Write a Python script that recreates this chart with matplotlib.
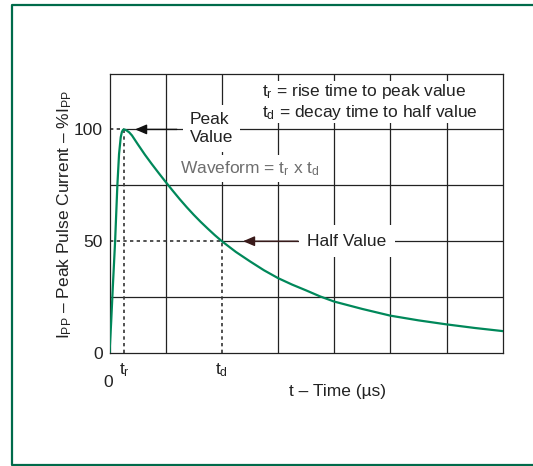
import numpy as np
import matplotlib
matplotlib.use("Agg")
import matplotlib.pyplot as plt
from matplotlib.lines import Line2D

plt.rcParams["font.family"] = ["Liberation Sans", "DejaVu Sans"]
plt.rcParams["mathtext.fontset"] = "custom"
plt.rcParams["mathtext.rm"] = "Liberation Sans"
plt.rcParams["mathtext.it"] = "Liberation Sans"

# pulse waveform (time in grid units, current in % of peak)
time_us = [0, 0.03, 0.06, 0.1, 0.14, 0.17, 0.2, 0.22, 0.24, 0.26, 0.3, 0.35, 0.4,
           0.5, 0.63, 0.75, 0.875, 1.0, 1.125, 1.25, 1.375, 1.5, 1.625, 1.75,
           1.875, 2.0, 2.25, 2.5, 2.75, 3.0, 3.25, 3.5, 3.75, 4.0, 4.5, 5.0,
           5.5, 6.0, 6.5, 7.0]
current_pct = [0, 14, 30, 50, 75, 89, 96.5, 98.8, 99.8, 100, 99.6, 98.7, 97.3,
               93.5, 88.7, 84.6, 80.5, 76.5, 72.6, 68.8, 65.2, 61.8, 58.6, 55.6,
               52.7, 50, 45.2, 41, 37, 33.5, 30.6, 28, 25.3, 23, 19.7, 16.7,
               14.6, 12.8, 11.2, 9.8]

t_rise = 0.26
t_decay = 2.0
x_grid = [1, 2, 3, 4, 5, 6]
y_grid = [25, 50, 75, 100]
y_ticks = [0, 50, 100]

green = "#00885a"
ink = "#222222"
fs = 12.5

fig = plt.figure(figsize=(5.33, 4.66), dpi=100)
ax = fig.add_axes([109.5 / 533, 1 - 353 / 466, 393.2 / 533, 279.5 / 466])
ax.set_xlim(0, 7)
ax.set_ylim(0, 125)

# grid, with the gaps where the dotted guides take over
for x in x_grid:
    lo = 50 / 125 if x == t_decay else 0
    ax.axvline(x, ymin=lo, color=ink, lw=0.9, zorder=1)
for y in y_grid:
    if y == 50:
        start = t_decay / 7
    elif y == 100:
        start = t_rise / 7
    else:
        start = 0
    ax.axhline(y, xmin=start, color=ink, lw=0.9, zorder=1)

# dotted guides to peak and half value
dots = dict(color="#333333", lw=1.2, ls=(0, (2, 2)), zorder=2)
ax.plot([0, t_rise], [100, 100], **dots)
ax.plot([t_rise, t_rise], [0, 100], **dots)
ax.plot([0, t_decay], [50, 50], **dots)
ax.plot([t_decay, t_decay], [0, 50], **dots)

ax.plot(time_us, current_pct, color=green, lw=1.6, zorder=4, solid_joinstyle="round")

for s in ax.spines.values():
    s.set_color(ink)
    s.set_linewidth(0.9)

ax.set_yticks(y_ticks)
ax.set_yticklabels([str(v) for v in y_ticks])
ax.set_xticks([t_rise, t_decay])
ax.set_xticklabels([r"t$_\mathrm{r}$", r"t$_\mathrm{d}$"])
ax.tick_params(axis="y", length=0, pad=5, labelsize=fs, labelcolor=ink)
ax.tick_params(axis="x", length=0, pad=6, labelsize=fs, labelcolor=ink)
ax.text(-0.03, -13.4, "0", ha="center", va="center", fontsize=fs, color=ink, clip_on=False)

ax.text(0.581, -0.1395, "t – Time (µs)", transform=ax.transAxes,
        ha="center", va="center", fontsize=fs, color=ink)
fig.text(65 / 533, 1 - 215 / 466,
         r"I$_\mathrm{PP}$ – Peak Pulse Current – %I$_\mathrm{PP}$",
         rotation=90, ha="center", va="center", fontsize=fs, color=ink)

white = dict(facecolor="white", edgecolor="none", pad=3)

# key in the upper right
ax.text(2.715, 112.3,
        "t$_\\mathrm{r}$ = rise time to peak value\nt$_\\mathrm{d}$ = decay time to half value",
        ha="left", va="center", fontsize=fs, color=ink, linespacing=1.12,
        bbox=dict(facecolor="white", edgecolor="none", pad=1), zorder=5)

# peak annotation
ax.text(1.43, 100.4, "Peak\nValue", ha="left", va="center", fontsize=fs,
        color=ink, linespacing=1.25, bbox=dict(facecolor="white", edgecolor="none", pad=5),
        zorder=5)
ax.annotate("", xy=(0.455, 100), xytext=(1.2, 100),
            arrowprops=dict(arrowstyle="-|>,head_length=0.7,head_width=0.3",
                            color="#111111", lw=1.0, shrinkA=0, shrinkB=0), zorder=6)

ax.text(1.255, 82.3, r"Waveform = t$_\mathrm{r}$ x t$_\mathrm{d}$", ha="left", va="center",
        fontsize=fs, color="#6e6e6e", bbox=white, zorder=5)

# half value annotation
ax.text(3.515, 50, "Half Value", ha="left", va="center", fontsize=fs, color=ink,
        bbox=dict(facecolor="white", edgecolor="none", pad=6), zorder=5)
ax.annotate("", xy=(2.377, 50), xytext=(3.356, 50),
            arrowprops=dict(arrowstyle="-|>,head_length=0.7,head_width=0.3",
                            color="#3a1a1a", lw=1.0, shrinkA=0, shrinkB=0), zorder=6)

# green page frame, open on the right
fx = [1.05, 12 / 533, 12 / 533, 1.05]
fy = [1 - 5 / 466, 1 - 5 / 466, 1 - 465 / 466, 1 - 465 / 466]
fig.add_artist(Line2D(fx, fy, transform=fig.transFigure, color="#006b4a", lw=1.6))

fig.savefig("out.png", dpi=100)
